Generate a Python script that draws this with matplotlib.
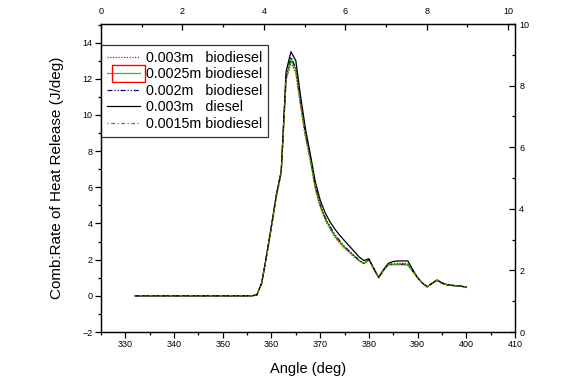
import matplotlib
matplotlib.use("Agg")
import matplotlib.pyplot as plt
from matplotlib.ticker import MultipleLocator
from matplotlib.patches import Rectangle

plt.rcParams['font.family'] = ['Liberation Sans', 'DejaVu Sans']

angle = [332, 340, 350, 356, 357, 358, 359, 360, 361, 362, 363, 364, 365, 366, 367, 368, 369,
         370, 371, 372, 373, 374, 375, 376, 377, 378, 379, 380, 381, 382, 383, 384, 385,
         386, 387, 388, 389, 390, 391, 392, 393, 394, 395, 396, 397, 398, 399, 400]

bio_003 = [0, 0, 0, 0, 0.05, 0.7, 2.2, 3.8, 5.5, 6.8, 11.9, 12.9, 12.3, 10.4, 8.7, 7.4, 5.9,
           4.9, 4.2, 3.7, 3.25, 2.9, 2.62, 2.38, 2.15, 1.93, 1.78, 1.98, 1.5, 1.0, 1.4, 1.72, 1.78,
           1.8, 1.8, 1.78, 1.4, 1.0, 0.7, 0.5, 0.68, 0.85, 0.7, 0.62, 0.58, 0.56, 0.53, 0.45]
bio_0025 = [0, 0, 0, 0, 0.05, 0.7, 2.2, 3.8, 5.5, 6.8, 12.0, 13.1, 12.5, 10.6, 8.9, 7.6, 6.0,
            5.0, 4.3, 3.8, 3.35, 3.0, 2.7, 2.45, 2.2, 1.95, 1.78, 2.0, 1.5, 1.02, 1.4, 1.72, 1.72,
            1.72, 1.72, 1.7, 1.35, 1.0, 0.7, 0.5, 0.7, 0.85, 0.7, 0.6, 0.57, 0.55, 0.52, 0.48]
bio_002 = [0, 0, 0, 0, 0.05, 0.72, 2.25, 3.85, 5.55, 6.85, 12.1, 13.2, 12.6, 10.7, 8.95, 7.65, 6.05,
           5.05, 4.35, 3.85, 3.4, 3.05, 2.72, 2.47, 2.22, 1.97, 1.8, 2.0, 1.5, 1.02, 1.42, 1.74, 1.75,
           1.75, 1.75, 1.73, 1.37, 1.0, 0.7, 0.5, 0.7, 0.86, 0.7, 0.61, 0.58, 0.56, 0.53, 0.47]
dsl_003 = [0, 0, 0, 0, 0.05, 0.72, 2.25, 3.9, 5.6, 6.9, 12.4, 13.5, 13.0, 11.0, 9.2, 7.8, 6.3,
           5.3, 4.6, 4.1, 3.7, 3.35, 3.05, 2.75, 2.45, 2.15, 1.95, 2.05, 1.52, 1.02, 1.45, 1.8, 1.9,
           1.93, 1.93, 1.93, 1.45, 1.0, 0.7, 0.5, 0.7, 0.88, 0.72, 0.62, 0.58, 0.56, 0.54, 0.48]
bio_0015 = [0, 0, 0, 0, 0.05, 0.7, 2.2, 3.8, 5.5, 6.8, 11.95, 13.0, 12.4, 10.5, 8.8, 7.5, 5.95,
            4.95, 4.25, 3.75, 3.3, 2.95, 2.66, 2.42, 2.18, 1.94, 1.78, 1.99, 1.5, 1.0, 1.4, 1.72, 1.74,
            1.75, 1.75, 1.72, 1.38, 1.0, 0.7, 0.5, 0.69, 0.85, 0.7, 0.61, 0.57, 0.55, 0.52, 0.47]

labels = ["0.003m   biodiesel", "0.0025m biodiesel", "0.002m   biodiesel",
          "0.003m   diesel", "0.0015m biodiesel"]

fig = plt.figure(figsize=(5.61, 3.85), dpi=100)
ax = fig.add_axes([101/561, 53/385, 414/561, 308/385])

lw = 0.9
ax.plot(angle, bio_003, color='red', linestyle=(0, (1, 1.2)), lw=lw, label=labels[0])
ax.plot(angle, bio_0025, color='#00dd00', linestyle='-', lw=lw, label=labels[1])
ax.plot(angle, bio_002, color='navy', linestyle=(0, (4, 1.5, 1, 1.5, 1, 1.5)), lw=lw, label=labels[2])
ax.plot(angle, dsl_003, color='black', linestyle='-', lw=lw, label=labels[3])
ax.plot(angle, bio_0015, color='olive', linestyle=(0, (1, 2, 3, 2)), lw=lw, label=labels[4])

ax.set_xlim(325, 410)
ax.set_ylim(-2, 15.03)
ax.xaxis.set_major_locator(MultipleLocator(10))
ax.xaxis.set_minor_locator(MultipleLocator(5))
ax.yaxis.set_major_locator(MultipleLocator(2))
ax.yaxis.set_minor_locator(MultipleLocator(1))
ax.tick_params(axis='both', which='major', direction='out', length=4, width=0.9, labelsize=6.5, pad=2)
ax.tick_params(axis='both', which='minor', direction='out', length=2.5, width=0.9)
ax.tick_params(top=False, right=False, which='both')
ax.set_xlabel("Angle (deg)", fontsize=10.5, labelpad=9)
ax.set_ylabel("Comb:Rate of Heat Release (J/deg)", fontsize=11, labelpad=13)
for s in ax.spines.values():
    s.set_linewidth(0.9)

# top axis
axt = ax.twiny()
axt.set_xlim(0, 10.17)
axt.set_xticks([0, 2, 4, 6, 8, 10])
axt.xaxis.set_minor_locator(MultipleLocator(1))
axt.tick_params(axis='x', which='major', direction='in', length=4, width=0.9, labelsize=6.5, pad=6)
axt.tick_params(axis='x', which='minor', direction='in', length=2.5, width=0.9)
axt.set_xlim(0, 10.17)

# right axis
axr = ax.twinx()
axr.set_ylim(0, 10)
axr.yaxis.set_major_locator(MultipleLocator(2))
axr.yaxis.set_minor_locator(MultipleLocator(1))
axr.tick_params(axis='y', which='major', direction='in', length=4, width=0.9, labelsize=6.5, pad=3)
axr.tick_params(axis='y', which='minor', direction='in', length=2.5, width=0.9)

leg = ax.legend(loc='upper left', bbox_to_anchor=(0.0, 0.932), borderaxespad=0,
                fontsize=10.3, frameon=True, fancybox=False, edgecolor='black',
                handlelength=2.3, handletextpad=0.45, labelspacing=0.18, borderpad=0.4)
leg.get_frame().set_linewidth(0.9)
leg.set_zorder(10)

# selection box around the second legend handle
fig.patches.append(Rectangle((112/561, (385-82)/385), 33/561, 17/385,
                             transform=fig.transFigure, fill=False, edgecolor='red', lw=1.0, zorder=20))

fig.savefig("out.png", dpi=100)
